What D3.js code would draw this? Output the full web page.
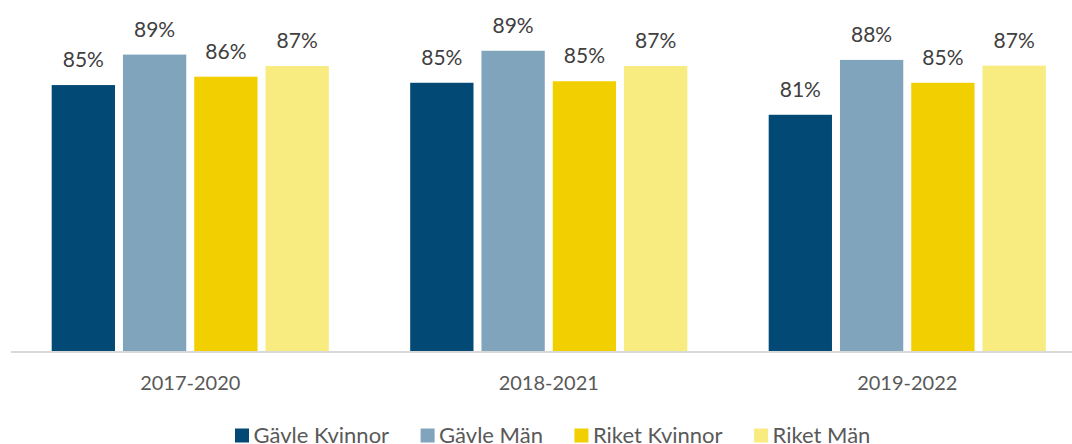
<!DOCTYPE html>
<html>
<head>
<meta charset="utf-8">
<script src="https://cdn.jsdelivr.net/npm/d3@7"></script>
<style>
  html, body { margin: 0; padding: 0; background: #fff; }
  text { font-family: Lato, "Open Sans", sans-serif; }
</style>
</head>
<body>
<svg id="chart" width="1072" height="444"></svg>
<script>
const periods = ["2017-2020", "2018-2021", "2019-2022"];
const seriesNames = ["Gävle Kvinnor", "Gävle Män", "Riket Kvinnor", "Riket Män"];
const seriesColors = ["#024a75", "#80a4bc", "#f2cf00", "#f8ec80"];

// values per series, one per period (percent)
const gavleKvinnor = [84.9, 85.2, 81.0];
const gavleMan = [88.9, 89.4, 88.2];
const riketKvinnor = [86.0, 85.4, 85.2];
const riketMan = [87.4, 87.4, 87.45];
const seriesValues = [gavleKvinnor, gavleMan, riketKvinnor, riketMan];

const svg = d3.select("#chart");
const width = 1072;
const baseY = 351;

// category scale and bar scale inside each category
const x0 = d3.scaleBand()
  .domain(periods)
  .range([11, 1086.5])
  .paddingInner(0.227)
  .paddingOuter(0.1135);

const x1 = d3.scaleBand()
  .domain(seriesNames)
  .range([0, x0.bandwidth()])
  .paddingInner(0.112);

const y = d3.scaleLinear()
  .domain([50, 90])
  .range([baseY, baseY - 40 * 7.62]);

const rows = [];
periods.forEach((p, i) => {
  seriesNames.forEach((s, j) => {
    rows.push({ period: p, series: s, color: seriesColors[j], value: seriesValues[j][i] });
  });
});

// baseline
svg.append("line")
  .attr("x1", 11)
  .attr("x2", width)
  .attr("y1", baseY + 1)
  .attr("y2", baseY + 1)
  .style("stroke", "#d9d9d9")
  .style("stroke-width", 2);

const bars = svg.append("g");

bars.selectAll("rect")
  .data(rows)
  .join("rect")
  .attr("x", d => x0(d.period) + x1(d.series))
  .attr("y", d => y(d.value))
  .attr("width", x1.bandwidth())
  .attr("height", d => baseY - y(d.value))
  .style("fill", d => d.color);

bars.selectAll("text")
  .data(rows)
  .join("text")
  .attr("x", d => x0(d.period) + x1(d.series) + x1.bandwidth() / 2)
  .attr("y", d => y(d.value) - 18)
  .attr("text-anchor", "middle")
  .style("font-size", "21px")
  .style("fill", "#404040")
  .text(d => Math.round(d.value) + "%");

// category labels
svg.append("g")
  .selectAll("text")
  .data(periods)
  .join("text")
  .attr("x", d => x0(d) + x0.bandwidth() / 2)
  .attr("y", 390)
  .attr("text-anchor", "middle")
  .style("font-size", "20px")
  .style("fill", "#595959")
  .text(d => d);

// legend, partly below the bottom edge as in the original
const legend = svg.append("g");
let lx = 235;
seriesNames.forEach((s, j) => {
  legend.append("rect")
    .attr("x", lx)
    .attr("y", 428.5)
    .attr("width", 14)
    .attr("height", 14)
    .style("fill", seriesColors[j]);
  const t = legend.append("text")
    .attr("x", lx + 18.5)
    .attr("y", 443)
    .style("font-size", "22px")
    .style("fill", "#595959")
    .text(s);
  lx += 18.5 + t.node().getComputedTextLength() + 31.5;
});
</script>
</body>
</html>
